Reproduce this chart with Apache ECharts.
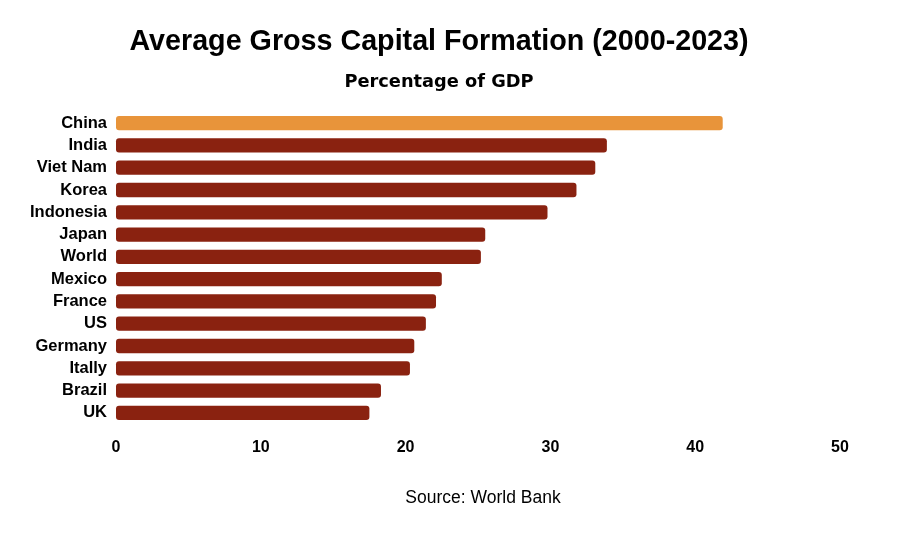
<!DOCTYPE html>
<html><head><meta charset="utf-8">
<script src="https://cdn.jsdelivr.net/npm/echarts@6/dist/echarts.min.js"></script>
<style>html,body{margin:0;padding:0;background:#fff}#c{width:900px;height:540px}</style>
</head><body><div id="c"></div>
<script>
const categories = ["China","India","Viet Nam","Korea","Indonesia","Japan","World","Mexico","France","US","Germany","Itally","Brazil","UK"];
const values = [41.9,33.9,33.1,31.8,29.8,25.5,25.2,22.5,22.1,21.4,20.6,20.3,18.3,17.5];
const highlight = "China";
const xTicks = [0,10,20,30,40,50];

const chart = echarts.init(document.getElementById('c'));
const font = "'Liberation Sans', Arial, sans-serif";
chart.setOption({
  backgroundColor:'#fff',
  animation:false,
  title:[
    {text:'Average Gross Capital Formation (2000-2023)', left:434, top:23, textAlign:'center',
     textStyle:{fontFamily:font, fontWeight:'bold', fontSize:28.7, color:'#000'}},
    {text:'Percentage of GDP', left:434, top:68, textAlign:'center',
     textStyle:{fontFamily:"'DejaVu Sans', sans-serif", fontWeight:'bold', fontSize:17.8, color:'#000'}},
    {text:'Source: World Bank', left:478, top:484, textAlign:'center',
     textStyle:{fontFamily:font, fontWeight:'normal', fontSize:17.5, color:'#000'}}
  ],
  grid:{left:116, right:60, top:112, bottom:116, containLabel:false},
  xAxis:{type:'value', min:xTicks[0], max:xTicks[xTicks.length-1], interval:10,
    axisLine:{show:false}, axisTick:{show:false}, splitLine:{show:false},
    axisLabel:{margin:16, fontFamily:font, fontWeight:'bold', fontSize:16, color:'#000'}},
  yAxis:{type:'category', data:categories, inverse:true,
    axisLine:{show:false}, axisTick:{show:false},
    axisLabel:{margin:9, fontFamily:font, fontWeight:'bold', fontSize:16.5, color:'#000'}},
  series:[{type:'bar', barWidth:'64%',
    data: categories.map((c,i)=>({value:values[i],
      itemStyle:{color: c===highlight ? '#E8943A' : '#8A2210', borderRadius:3}}))
  }]
});
</script></body></html>
